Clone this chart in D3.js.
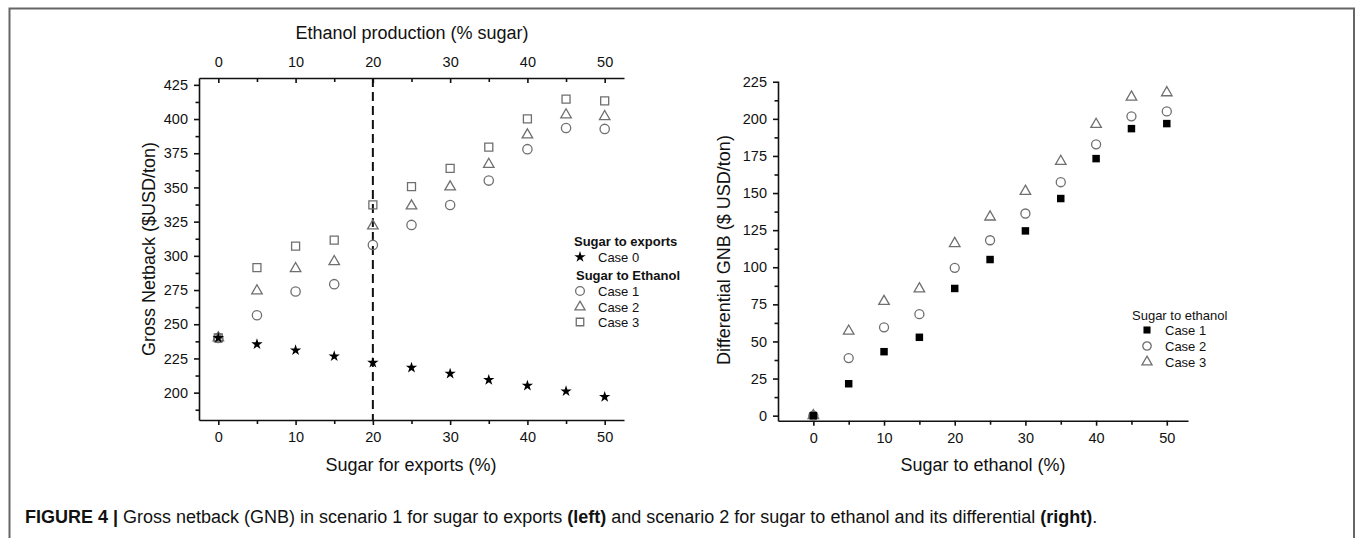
<!DOCTYPE html>
<html>
<head>
<meta charset="utf-8">
<script src="https://cdn.jsdelivr.net/npm/d3@7"></script>
<style>
  body { margin: 0; background: #fff; }
  svg text { font-family: "Liberation Sans", Arial, sans-serif; fill: #111; }
  .axis path, .axis line { stroke: #111; stroke-width: 1.6px; }
  .axis text { font-size: 14.5px; font-family: "Liberation Sans", Arial, sans-serif; fill: #111; }
</style>
</head>
<body>
<div id="chart"></div>
<script>
// ---- data ----
var sugarPct = [0, 5, 10, 15, 20, 25, 30, 35, 40, 45, 50]

// left panel: gross netback ($USD/ton)
var exportsCase0 = [240, 235.4, 231.0, 226.6, 221.9, 218.3, 213.9, 209.3, 205.1, 201.0, 196.9]
var ethanolCase1 = [240, 256.6, 273.9, 279.3, 308.0, 322.6, 337.2, 355.0, 378.0, 393.5, 392.8]
var ethanolCase2 = [240, 274.4, 290.7, 295.8, 321.9, 336.5, 350.4, 366.9, 388.4, 403.1, 401.8]
var ethanolCase3 = [240, 291.4, 307.1, 311.5, 337.2, 350.6, 364.0, 379.4, 400.1, 414.5, 413.3]

// right panel: differential GNB ($ USD/ton)
var diffCase1 = [0, 21.5, 43.1, 52.8, 85.7, 105.2, 124.5, 146.3, 173.2, 193.4, 196.8]
var diffCase2 = [0, 38.8, 59.5, 68.4, 99.6, 118.2, 136.2, 157.3, 182.8, 201.7, 205.0]
var diffCase3 = [0, 57.0, 77.0, 85.5, 116.0, 133.9, 151.2, 171.4, 196.3, 214.7, 217.6]

var xTicks = [0, 10, 20, 30, 40, 50]
var xMinor = [5, 15, 25, 35, 45]
var leftYTicks = [200, 225, 250, 275, 300, 325, 350, 375, 400, 425]
var rightYTicks = [0, 25, 50, 75, 100, 125, 150, 175, 200, 225]

var width = 1357
var height = 538
var grey = "#6f6f6f"

var svg = d3.select("#chart")
    .append("svg")
    .attr("width", width)
    .attr("height", height)

// figure frame (top, left, right)
svg.append("path")
    .attr("d", "M9.5,538 L9.5,8.5 L1354,8.5 L1354,538")
    .attr("fill", "none")
    .attr("stroke", "#666")
    .attr("stroke-width", 2)

function sym(type, size) {
    return d3.symbol().type(type).size(size)()
}

function halfTicks(lo, hi, step) {
    var out = []
    for (var v = lo; v <= hi + 1e-9; v += step) out.push(v)
    return out
}

// ================= left panel =================
var xL = d3.scaleLinear().domain([-2.5, 52.5]).range([199, 624])
var yL = d3.scaleLinear().domain([180, 430]).range([420, 78])

var gL = svg.append("g")

// minor ticks
gL.append("g").attr("class", "axis")
    .attr("transform", "translate(0," + 420 + ")")
    .call(d3.axisBottom(xL).tickValues(xMinor).tickSize(4).tickFormat(""))
    .select(".domain").remove()
gL.append("g").attr("class", "axis")
    .attr("transform", "translate(0," + 78 + ")")
    .call(d3.axisBottom(xL).tickValues(xMinor).tickSize(4).tickFormat(""))
    .select(".domain").remove()
gL.append("g").attr("class", "axis")
    .attr("transform", "translate(199,0)")
    .call(d3.axisLeft(yL).tickValues(halfTicks(187.5, 412.5, 25)).tickSize(3.5).tickFormat(""))
    .select(".domain").remove()

// bottom axis
gL.append("g").attr("class", "axis")
    .attr("transform", "translate(0," + 420 + ")")
    .call(d3.axisBottom(xL).tickValues(xTicks).tickSizeInner(5).tickSizeOuter(0).tickPadding(7))
// top axis (ticks point into the plot, labels above)
gL.append("g").attr("class", "axis")
    .attr("transform", "translate(0," + 78 + ")")
    .call(d3.axisTop(xL).tickValues(xTicks).tickSizeInner(-5).tickSizeOuter(0).tickPadding(11))
// left axis
gL.append("g").attr("class", "axis")
    .attr("transform", "translate(199,0)")
    .call(d3.axisLeft(yL).tickValues(leftYTicks).tickSizeInner(5).tickSizeOuter(0).tickPadding(6))

// dashed line at 20 %
gL.append("line")
    .attr("x1", xL(20)).attr("x2", xL(20))
    .attr("y1", yL(430)).attr("y2", yL(180))
    .attr("stroke", "#111")
    .attr("stroke-width", 2)
    .attr("stroke-dasharray", "9,5")

gL.append("text")
    .attr("x", 412).attr("y", 39)
    .attr("text-anchor", "middle")
    .style("font-size", "18px")
    .text("Ethanol production (% sugar)")
gL.append("text")
    .attr("x", 411).attr("y", 471)
    .attr("text-anchor", "middle")
    .style("font-size", "18px")
    .text("Sugar for exports (%)")
gL.append("text")
    .attr("transform", "translate(155,249) rotate(-90)")
    .attr("text-anchor", "middle")
    .style("font-size", "18px")
    .text("Gross Netback ($USD/ton)")

var leftSeries = [
    { vals: ethanolCase3, type: d3.symbolSquare, size: 64, fill: "none", stroke: grey },
    { vals: ethanolCase2, type: d3.symbolTriangle, size: 48, fill: "none", stroke: grey },
    { vals: ethanolCase1, type: d3.symbolCircle, size: 68, fill: "none", stroke: grey },
    { vals: exportsCase0, type: d3.symbolStar, size: 40, fill: "#000", stroke: "none" }
]
leftSeries.forEach(function(s) {
    gL.selectAll(null)
        .data(s.vals)
        .enter()
        .append("path")
        .attr("d", sym(s.type, s.size))
        .attr("transform", function(d, i) { return "translate(" + xL(sugarPct[i]) + "," + yL(d) + ")" })
        .attr("fill", s.fill)
        .attr("stroke", s.stroke)
        .attr("stroke-width", 1.3)
})

// left legend
var legL = gL.append("g")
legL.append("text").attr("x", 574).attr("y", 246).style("font-size", "13px").style("font-weight", "bold").text("Sugar to exports")
legL.append("text").attr("x", 576).attr("y", 280).style("font-size", "13px").style("font-weight", "bold").text("Sugar to Ethanol")
var legLItems = [
    { label: "Case 0", y: 257, type: d3.symbolStar, size: 40, fill: "#000", stroke: "none" },
    { label: "Case 1", y: 291, type: d3.symbolCircle, size: 60, fill: "none", stroke: grey },
    { label: "Case 2", y: 307, type: d3.symbolTriangle, size: 44, fill: "none", stroke: grey },
    { label: "Case 3", y: 322, type: d3.symbolSquare, size: 56, fill: "none", stroke: grey }
]
legLItems.forEach(function(it) {
    legL.append("path")
        .attr("d", sym(it.type, it.size))
        .attr("transform", "translate(580," + it.y + ")")
        .attr("fill", it.fill).attr("stroke", it.stroke).attr("stroke-width", 1.3)
    legL.append("text").attr("x", 598).attr("y", it.y + 5).style("font-size", "13px").text(it.label)
})

// ================= right panel =================
var xR = d3.scaleLinear().domain([-5, 53]).range([778, 1188])
var yR = d3.scaleLinear().domain([-3.4, 225.5]).range([420.7, 81])

var gR = svg.append("g")

gR.append("g").attr("class", "axis")
    .attr("transform", "translate(0,420.7)")
    .call(d3.axisBottom(xR).tickValues(xMinor).tickSize(4).tickFormat(""))
    .select(".domain").remove()
gR.append("g").attr("class", "axis")
    .attr("transform", "translate(778,0)")
    .call(d3.axisLeft(yR).tickValues(halfTicks(12.5, 212.5, 25)).tickSize(3.5).tickFormat(""))
    .select(".domain").remove()
gR.append("g").attr("class", "axis")
    .attr("transform", "translate(0,420.7)")
    .call(d3.axisBottom(xR).tickValues(xTicks).tickSizeInner(5).tickSizeOuter(0).tickPadding(7))
gR.append("g").attr("class", "axis")
    .attr("transform", "translate(778,0)")
    .call(d3.axisLeft(yR).tickValues(rightYTicks).tickSizeInner(5).tickSizeOuter(0).tickPadding(6))

gR.append("text")
    .attr("x", 983).attr("y", 471)
    .attr("text-anchor", "middle")
    .style("font-size", "18px")
    .text("Sugar to ethanol (%)")
gR.append("text")
    .attr("transform", "translate(730,250) rotate(-90)")
    .attr("text-anchor", "middle")
    .style("font-size", "18px")
    .text("Differential GNB ($ USD/ton)")

var rightSeries = [
    { vals: diffCase3, type: d3.symbolTriangle, size: 48, fill: "none", stroke: grey },
    { vals: diffCase2, type: d3.symbolCircle, size: 64, fill: "none", stroke: grey },
    { vals: diffCase1, type: d3.symbolSquare, size: 56, fill: "#000", stroke: "none" }
]
rightSeries.forEach(function(s) {
    gR.selectAll(null)
        .data(s.vals)
        .enter()
        .append("path")
        .attr("d", sym(s.type, s.size))
        .attr("transform", function(d, i) { return "translate(" + xR(sugarPct[i]) + "," + yR(d) + ")" })
        .attr("fill", s.fill)
        .attr("stroke", s.stroke)
        .attr("stroke-width", 1.3)
})

var legR = gR.append("g")
legR.append("text").attr("x", 1132).attr("y", 320).style("font-size", "13px").text("Sugar to ethanol")
var legRItems = [
    { label: "Case 1", y: 330, type: d3.symbolSquare, size: 50, fill: "#000", stroke: "none" },
    { label: "Case 2", y: 346, type: d3.symbolCircle, size: 56, fill: "none", stroke: grey },
    { label: "Case 3", y: 362, type: d3.symbolTriangle, size: 44, fill: "none", stroke: grey }
]
legRItems.forEach(function(it) {
    legR.append("path")
        .attr("d", sym(it.type, it.size))
        .attr("transform", "translate(1147," + it.y + ")")
        .attr("fill", it.fill).attr("stroke", it.stroke).attr("stroke-width", 1.3)
    legR.append("text").attr("x", 1165).attr("y", it.y + 5).style("font-size", "13px").text(it.label)
})

// ================= caption =================
var cap = svg.append("text")
    .attr("x", 25).attr("y", 523)
    .style("font-size", "18px")
cap.append("tspan").style("font-weight", "bold").text("FIGURE 4 | ")
cap.append("tspan").text("Gross netback (GNB) in scenario 1 for sugar to exports ")
cap.append("tspan").style("font-weight", "bold").text("(left)")
cap.append("tspan").text(" and scenario 2 for sugar to ethanol and its differential ")
cap.append("tspan").style("font-weight", "bold").text("(right)")
cap.append("tspan").text(".")
</script>
</body>
</html>
